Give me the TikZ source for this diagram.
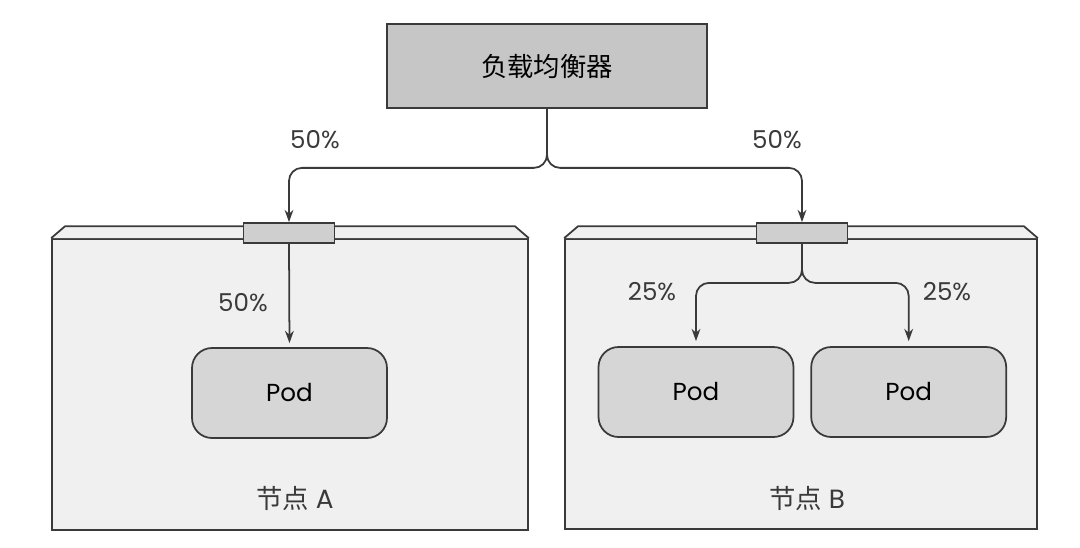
\documentclass[tikz,border=0pt]{standalone}
\usepackage{fontspec}
\setmainfont{Poppins}
\newfontfamily\cjk{Noto Sans CJK SC}
\usetikzlibrary{arrows.meta,positioning}

\definecolor{lineC}{HTML}{3A3A3A}
\definecolor{lbC}{HTML}{C6C6C6}
\definecolor{faceC}{HTML}{F0F0F0}
\definecolor{podC}{HTML}{D6D6D6}
\definecolor{portC}{HTML}{CFCFCF}

\begin{document}
\begin{tikzpicture}[
    x=0.02cm, y=-0.02cm,
    lb/.style={rectangle, draw=lineC, line width=1pt, fill=lbC, minimum width=6.4cm, minimum height=1.68cm, font=\fontsize{15}{18}\selectfont\cjk},
    host/.style={rectangle, draw=lineC, line width=1pt, fill=faceC, inner sep=0pt},
    port/.style={rectangle, draw=lineC, line width=1pt, fill=portC, minimum width=1.82cm, minimum height=0.4cm, inner sep=0pt},
    pod/.style={rectangle, rounded corners=0.4cm, draw=lineC, line width=1pt, fill=podC, minimum width=3.9cm, minimum height=1.8cm, font=\fontsize{14}{17}\selectfont},
    pct/.style={font=\fontsize{14}{17}\selectfont, text=lineC},
    title/.style={font=\fontsize{15}{18}\selectfont, text=lineC},
    arrow/.style={-{Stealth[length=7pt,width=5pt]}, line width=1pt, draw=lineC, rounded corners=0.26cm}
]
    \useasboundingbox (0,0) rectangle (1080,548);

    % load balancer
    \node[lb] (lb) at (547,66) {负载均衡器};

    % node A
    \node[host, minimum width=9.52cm, minimum height=5.82cm] (nodeA) at (290,384.5) {};
    \draw[draw=lineC, line width=1pt, fill=faceC] (nodeA.north west) -- ++(14,-12) -- ([xshift=-0.28cm, yshift=0.24cm]nodeA.north east) -- (nodeA.north east);
    \node[port] (portA) at (289,233) {};
    \node[pod] (podA) at (289.5,393) {Pod};
    \node[title] (nameA) at (295,498) {{\cjk 节点} A};

    % node B
    \node[host, minimum width=9.44cm, minimum height=5.8cm] (nodeB) at (801,384) {};
    \draw[draw=lineC, line width=1pt, fill=faceC] (nodeB.north west) -- ++(14,-12) -- ([xshift=-0.28cm, yshift=0.24cm]nodeB.north east) -- (nodeB.north east);
    \node[port] (portB) at (802,233) {};
    \node[pod] (podB1) at (696,392) {Pod};
    \node[pod, right=0.32cm of podB1] (podB2) {Pod};
    \node[title] (nameB) at (807,498) {{\cjk 节点} B};

    % load balancer to ports
    \draw[arrow] (lb.south) -- ++(0,59) -| (portA.north);
    \draw[arrow] (lb.south) -- ++(0,59) -| (portB.north);
    \node[pct] (pctA) at (315,140) {50\%};
    \node[pct] (pctB) at (777,140) {50\%};

    % ports to pods
    \draw[arrow, shorten >=0.08cm] (portA.south) -- (podA.north);
    \node[pct] (pctA1) at (243,303) {50\%};
    \draw[arrow, shorten >=0.1cm] (portB.south) -- ++(0,39) -| (podB1.north);
    \draw[arrow, shorten >=0.1cm] (portB.south) -- ++(0,39) -| (podB2.north);
    \node[pct] (pctB1) at (652,292) {25\%};
    \node[pct] (pctB2) at (947,292) {25\%};
\end{tikzpicture}
\end{document}
